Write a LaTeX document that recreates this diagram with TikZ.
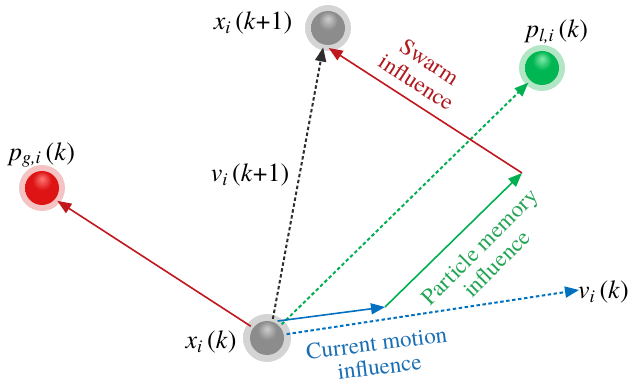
\documentclass[tikz,border=0pt]{standalone}
\usepackage{fontspec}
\setmainfont{texgyretermes}[Extension=.otf, UprightFont=*-regular, ItalicFont=*-italic, BoldFont=*-bold, BoldItalicFont=*-bolditalic]
\usetikzlibrary{arrows.meta}
\definecolor{cred}{RGB}{192,22,30}
\definecolor{cgreen}{RGB}{0,176,80}
\definecolor{cblue}{RGB}{0,112,192}
\definecolor{cblack}{RGB}{45,45,45}
\definecolor{tred}{RGB}{175,25,30}
\definecolor{tgreen}{RGB}{35,165,85}
\definecolor{tblue}{RGB}{25,110,180}
\definecolor{gglow}{RGB}{212,212,212}
\definecolor{rglow}{RGB}{244,196,196}
\definecolor{grglow}{RGB}{178,230,196}
\definecolor{ghi}{RGB}{205,205,205}
\definecolor{gbody}{RGB}{140,140,140}
\definecolor{gedge}{RGB}{80,80,80}
\definecolor{rhi}{RGB}{255,120,120}
\definecolor{rbody}{RGB}{222,20,20}
\definecolor{redge}{RGB}{140,0,0}
\definecolor{grhi}{RGB}{130,235,170}
\definecolor{grbody}{RGB}{0,182,82}
\definecolor{gredge}{RGB}{0,105,45}
\pgfdeclareradialshading{glowgray}{\pgfpoint{0bp}{0bp}}{color(0bp)=(gglow); color(34bp)=(gglow); color(50bp)=(white)}
\pgfdeclareradialshading{glowred}{\pgfpoint{0bp}{0bp}}{color(0bp)=(rglow); color(34bp)=(rglow); color(50bp)=(white)}
\pgfdeclareradialshading{glowgreen}{\pgfpoint{0bp}{0bp}}{color(0bp)=(grglow); color(34bp)=(grglow); color(50bp)=(white)}
\pgfdeclareradialshading{ballgray}{\pgfpoint{0bp}{14bp}}{color(0bp)=(ghi); color(14bp)=(gbody); color(40bp)=(gbody); color(60bp)=(gedge)}
\pgfdeclareradialshading{ballred}{\pgfpoint{0bp}{14bp}}{color(0bp)=(rhi); color(14bp)=(rbody); color(40bp)=(rbody); color(60bp)=(redge)}
\pgfdeclareradialshading{ballgreen}{\pgfpoint{0bp}{14bp}}{color(0bp)=(grhi); color(14bp)=(grbody); color(40bp)=(grbody); color(60bp)=(gredge)}
\begin{document}
\begin{tikzpicture}[x=1pt,y=-1pt,
  ball/.style={circle, minimum size=34pt, inner sep=0pt, outer sep=3pt},
  tip/.style={-{Triangle[length=14pt,width=11pt]}},
  solidline/.style={tip, line width=1.6pt},
  dotline/.style={tip, line width=2pt, dash pattern=on 3.5pt off 2.5pt},
  mlabel/.style={font=\fontsize{26}{30}\selectfont, inner sep=0pt},
  tlabel/.style={font=\fontsize{23}{24}\selectfont, align=center, inner sep=0pt}]
\useasboundingbox (0,0) rectangle (632,385);
% glows
\shade[shading=glowgray] (267,338) circle (24pt);
\shade[shading=glowgray] (328,28) circle (23pt);
\shade[shading=glowgreen] (542,68) circle (23pt);
\shade[shading=glowred] (42,188) circle (23pt);
% balls
\node[ball, shading=ballgray] (xk) at (267,338) {};
\node[ball, shading=ballgray] (xk1) at (328,28) {};
\node[ball, shading=ballgreen] (pl) at (542,68) {};
\node[ball, shading=ballred] (pg) at (42,188) {};
% labels
\node[mlabel] (lxk1) at (253,23) {\textit{x}\textsubscript{\textit{i}}\,(\textit{k}+1)};
\node[mlabel] (lpl) at (557,32) {\textit{p}\textsubscript{\textit{l,i}}\,(\textit{k})};
\node[mlabel] (lpg) at (42,155) {\textit{p}\textsubscript{\textit{g,i}}\,(\textit{k})};
\node[mlabel] (lvk1) at (250,175) {\textit{v}\textsubscript{\textit{i}}\,(\textit{k}+1)};
\node[mlabel] (lxk) at (211,342) {\textit{x}\textsubscript{\textit{i}}\,(\textit{k})};
\node[mlabel, anchor=east] (lvk) at (629,292) {\textit{v}\textsubscript{\textit{i}}\,(\textit{k})};
\node[tlabel, text=tred, rotate=-33] (tsw) at (423,72) {Swarm\\influence};
\node[tlabel, text=tgreen, rotate=45] (tpm) at (488,255) {Particle memory\\influence};
\node[tlabel, text=tblue, rotate=7] (tcm) at (378,355) {Current motion\\influence};
% coordinates
\coordinate (m1) at (385,307);
\coordinate (m2) at (522,173);
\coordinate (vk) at (579,290);
% connectors
\draw[solidline, cred] (xk.144) -- (pg.-40);
\draw[dotline, cblack] (xk.73) -- (xk1.-104);
\draw[dotline, cgreen] (xk.43) -- (pl.-133);
\draw[dotline, cblue] (xk.11) -- (vk);
\draw[solidline, cblue] (xk.58) -- (m1);
\draw[solidline, cgreen] (m1) -- (m2);
\draw[solidline, cred] (m2) -- (xk1.-88);
\end{tikzpicture}
\end{document}
